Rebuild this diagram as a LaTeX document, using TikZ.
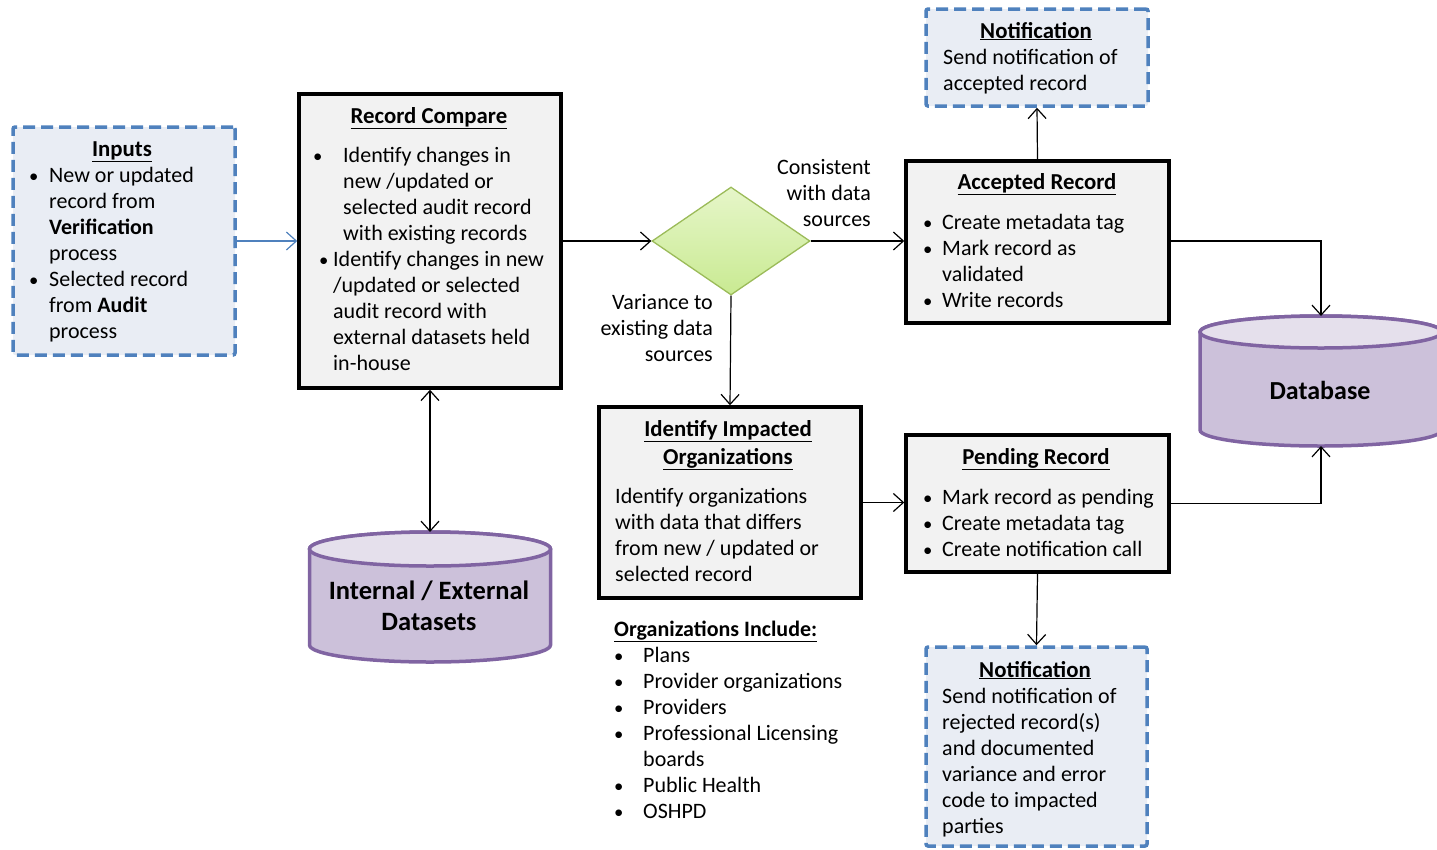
\documentclass[tikz,border=0pt]{standalone}
\usepackage{fontspec}
\setmainfont{Carlito}
\usetikzlibrary{arrows.meta,shapes.geometric}

\definecolor{boxfill}{HTML}{F2F2F2}
\definecolor{notefill}{HTML}{E9EDF4}
\definecolor{noteline}{HTML}{4F81BD}
\definecolor{cylfill}{HTML}{CCC1DA}
\definecolor{cyltop}{HTML}{E5E0EC}
\definecolor{cylline}{HTML}{8064A2}
\definecolor{dmline}{HTML}{9BBB59}
\definecolor{dmtop}{HTML}{E6F6C9}
\definecolor{dmbot}{HTML}{C9EA92}

% bullet line and continuation line helpers
\newcommand{\bl}[2]{\makebox[#1pt][l]{\scalebox{0.85}{\textbullet}}#2}
\newcommand{\cl}[2]{\hspace*{#1pt}#2}

\tikzset{
  procbox/.style={draw=black, line width=3.5pt, fill=boxfill, inner sep=0pt},
  notebox/.style={draw=noteline, line width=3.5pt, dash pattern=on 12pt off 6pt,
                  fill=notefill, rounded corners=2pt, inner sep=0pt},
  body/.style={font=\fontsize{22}{26}\selectfont, inner sep=0pt, align=left},
  rbody/.style={font=\fontsize{22}{26}\selectfont, inner sep=0pt, align=right},
  ttl/.style={font=\fontsize{22.8}{26}\selectfont\bfseries, inner sep=0pt},
  flow/.style={line width=1.2pt, -{Straight Barb[length=10pt,width=18pt]}},
  cyl/.style={draw=cylline, line width=3.5pt},
}

\begin{document}
\begin{tikzpicture}[x=1pt,y=-1pt]
\useasboundingbox (0,0) rectangle (1437,849);

% ---------- boxes ----------
\node[notebox, minimum width=222pt, minimum height=228pt] (in) at (124,241) {};
\node[procbox, minimum width=262pt, minimum height=294pt] (rc) at (430,241) {};
\node[diamond, draw=dmline, line width=1.3pt, top color=dmtop, bottom color=dmbot,
      minimum width=158pt, minimum height=108pt, inner sep=0pt] (dm) at (731,241) {};
\node[procbox, minimum width=263pt, minimum height=162pt] (acc) at (1037.5,242) {};
\node[notebox, minimum width=222pt, minimum height=97pt] (n1) at (1037,57.5) {};
\node[procbox, minimum width=262pt, minimum height=191pt] (idf) at (730,502.5) {};
\node[procbox, minimum width=263pt, minimum height=137pt] (pend) at (1037.5,503.5) {};
\node[notebox, minimum width=221pt, minimum height=199pt] (n2) at (1036.5,746.5) {};

% ---------- database cylinder ----------
\coordinate (dbtop) at (1321,316);
\coordinate (dbbot) at (1321,446);
\filldraw[cyl, fill=cylfill] (1200,332) -- (1200,430)
  arc[start angle=180, end angle=360, x radius=121pt, y radius=16pt] -- (1442,332)
  arc[start angle=0, end angle=180, x radius=121pt, y radius=16pt] -- cycle;
\filldraw[cyl, fill=cyltop] (1321,332) ellipse[x radius=121pt, y radius=16pt];
\node[font=\fontsize{26}{30}\selectfont\bfseries, inner sep=0pt] (db) at (1320,390) {Database};

% ---------- datasets cylinder ----------
\coordinate (dstop) at (430,532);
\filldraw[cyl, fill=cylfill] (309.5,549) -- (309.5,645)
  arc[start angle=180, end angle=360, x radius=120.5pt, y radius=17pt] -- (550.5,549)
  arc[start angle=0, end angle=180, x radius=120.5pt, y radius=17pt] -- cycle;
\filldraw[cyl, fill=cyltop] (430,549) ellipse[x radius=120.5pt, y radius=17pt];
\node[font=\fontsize{26.5}{31}\selectfont\bfseries, align=center, inner sep=0pt] (ds) at (429,606)
  {Internal / External\\Datasets};

% ---------- texts (multi-line nodes sit on the baseline of their last line) ----------
\node[ttl, anchor=base] (inT) at (122,156) {\underline{Inputs}};
\node[body, anchor=base west] (inB) at (29,338) {%
  \bl{20}{New or updated}\\
  \cl{20}{record from}\\
  \cl{20}{\textbf{Verification}}\\
  \cl{20}{process}\\
  \bl{20}{Selected record}\\
  \cl{20}{from \textbf{Audit}}\\
  \cl{20}{process}};

\node[ttl, anchor=base] (rcT) at (429,123) {\underline{Record Compare}};
\node[body, anchor=base west] (rcB) at (313,370) {%
  \bl{30}{Identify changes in}\\
  \cl{30}{new /updated or}\\
  \cl{30}{selected audit record}\\
  \cl{30}{with existing records}\\
  \cl{6}{\bl{14}{Identify changes in new}}\\
  \cl{20}{/updated or selected}\\
  \cl{20}{audit record with}\\
  \cl{20}{external datasets held}\\
  \cl{20}{in-house}};

\node[rbody, anchor=base east] (cons) at (871,226) {Consistent\\with data\\sources};
\node[rbody, anchor=base east] (vari) at (713,361) {Variance to\\existing data\\sources};

\node[ttl, anchor=base] (accT) at (1037,189) {\underline{Accepted Record}};
\node[body, anchor=base west] (accB) at (923,307) {%
  \bl{19}{Create metadata tag}\\
  \bl{19}{Mark record as}\\
  \cl{19}{validated}\\
  \bl{19}{Write records}};

\node[ttl, anchor=base] (n1T) at (1036,38) {\underline{Notification}};
\node[body, anchor=base west] (n1B) at (943,90) {Send notification of\\accepted record};

\node[ttl, anchor=base, align=center, font=\fontsize{22.8}{28}\selectfont\bfseries] (idfT) at (728,464)
  {\underline{Identify Impacted}\\\underline{Organizations}};
\node[body, anchor=base west] (idfB) at (615,581) {%
  Identify organizations\\with data that differs\\from new / updated or\\selected record};

\node[ttl, anchor=base] (pendT) at (1036,464) {\underline{Pending Record}};
\node[body, anchor=base west] (pendB) at (923,556) {%
  \bl{19}{Mark record as pending}\\
  \bl{19}{Create metadata tag}\\
  \bl{19}{Create notification call}};

\node[ttl, anchor=base] (n2T) at (1035,677) {\underline{Notification}};
\node[body, anchor=base west] (n2B) at (942,833) {%
  Send notification of\\rejected record(s)\\and documented\\variance and error\\code to impacted\\parties};

\node[body, anchor=base west] (org) at (614,818) {%
  \underline{\textbf{Organizations Include:}}\\
  \bl{29}{Plans}\\
  \bl{29}{Provider organizations}\\
  \bl{29}{Providers}\\
  \bl{29}{Professional Licensing}\\
  \cl{29}{boards}\\
  \bl{29}{Public Health}\\
  \bl{29}{OSHPD}};

% ---------- connectors ----------
\draw[flow, draw=noteline] (in.east) -- (rc.west);
\draw[flow] (rc.east) -- (dm.west);
\draw[flow] (dm.east) -- (dm.east -| acc.west);
\draw[flow] (acc.north) -- (n1.south);
\draw[flow] (acc.east |- dm.east) -| (dbtop);
\draw[flow] (dm.south) -- (idf.north);
\draw[flow] (idf.east) -- (idf.east -| pend.west);
\draw[flow] (pend.east) -| (dbbot);
\draw[flow] (pend.south) -- (n2.north);
\draw[line width=1.2pt, {Straight Barb[length=10pt,width=18pt]}-{Straight Barb[length=10pt,width=18pt]}]
  (rc.south) -- (dstop);
\end{tikzpicture}
\end{document}
